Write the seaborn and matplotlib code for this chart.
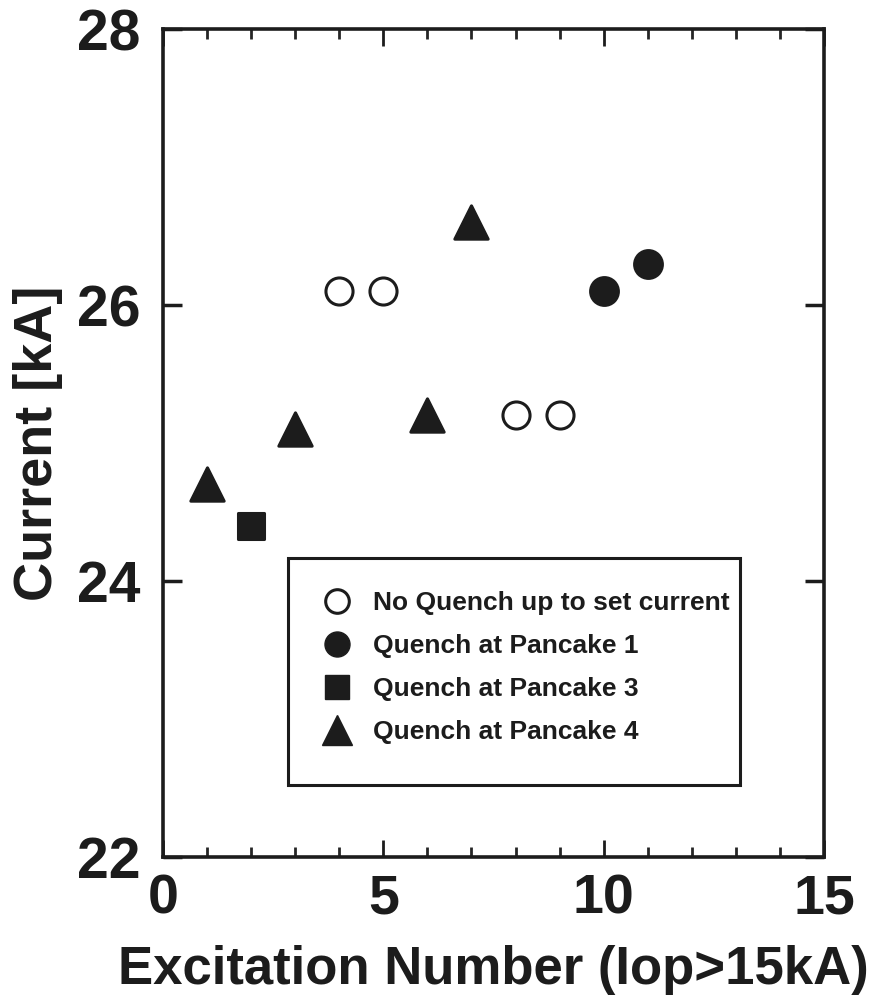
import matplotlib
matplotlib.use("Agg")
import matplotlib.pyplot as plt
import seaborn as sns
import pandas as pd
from matplotlib.ticker import MultipleLocator, FixedLocator
from matplotlib.lines import Line2D
from matplotlib.patches import Rectangle

# Data
no_quench_x = [4, 5, 8, 9]
no_quench_y = [26.1, 26.1, 25.2, 25.2]
pancake1_x = [10, 11]
pancake1_y = [26.1, 26.3]
pancake3_x = [2]
pancake3_y = [24.4]
pancake4_x = [1, 3, 6, 7]
pancake4_y = [24.7, 25.1, 25.2, 26.6]
labels = ["No Quench up to set current", "Quench at Pancake 1",
          "Quench at Pancake 3", "Quench at Pancake 4"]

sns.set_theme(style="white")
plt.rcParams['font.family'] = ['Liberation Sans', 'DejaVu Sans']

fig = plt.figure(figsize=(8.78, 9.99), dpi=100)
ax = fig.add_axes([0.1857, 0.1421, 0.7528, 0.8288])

ink = "#1c1c1c"
series = [
    (no_quench_x, no_quench_y, "o", "white", 19.5),
    (pancake1_x, pancake1_y, "o", ink, 20),
    (pancake3_x, pancake3_y, "s", ink, 18.5),
    (pancake4_x, pancake4_y, "^", ink, 24),
]
for (xs, ys, m, fc, ms), lab in zip(series, labels):
    df = pd.DataFrame({"x": xs, "y": ys})
    sns.scatterplot(data=df, x="x", y="y", ax=ax, marker=m, s=ms**2,
                    facecolor=fc, edgecolor=ink, linewidth=2.2, zorder=3)

ax.set_xlim(0, 15)
ax.set_ylim(22, 28)
ax.xaxis.set_major_locator(MultipleLocator(5))
ax.xaxis.set_minor_locator(MultipleLocator(1))
ax.yaxis.set_major_locator(FixedLocator([22, 24, 26, 28]))
ax.tick_params(axis="x", which="major", direction="in", length=12, width=2,
               top=True, bottom=True, labelsize=40, pad=12, colors=ink)
ax.tick_params(axis="x", which="minor", direction="in", length=7, width=2,
               top=True, bottom=True)
ax.tick_params(axis="y", which="major", direction="in", length=14, width=2.5,
               left=True, right=True, labelsize=41, pad=16, colors=ink)
for lab in ax.get_xticklabels() + ax.get_yticklabels():
    lab.set_fontweight("bold")
for sp in ax.spines.values():
    sp.set_linewidth(2.6)
    sp.set_color(ink)

ax.set_xlabel("Excitation Number (Iop>15kA)", fontsize=38, fontweight="bold",
              color=ink, labelpad=14)
ax.set_ylabel("Current [kA]", fontsize=39, fontweight="bold", color=ink,
              labelpad=10)

handles = [
    Line2D([], [], ls="none", marker="o", markersize=17, markerfacecolor="white",
           markeredgecolor=ink, markeredgewidth=2.2),
    Line2D([], [], ls="none", marker="o", markersize=18, markerfacecolor=ink,
           markeredgecolor=ink),
    Line2D([], [], ls="none", marker="s", markersize=17, markerfacecolor=ink,
           markeredgecolor=ink),
    Line2D([], [], ls="none", marker="^", markersize=22, markerfacecolor=ink,
           markeredgecolor=ink),
]
# legend box
ax.add_patch(Rectangle((0.189, 0.087), 0.684, 0.274, transform=ax.transAxes,
                       facecolor="white", edgecolor=ink, linewidth=2.2,
                       zorder=4))
leg = ax.legend(handles, labels, loc="upper left",
                bbox_to_anchor=(0.188, 0.361), frameon=False,
                prop={"size": 19, "weight": "bold"}, handlelength=1.3,
                handletextpad=0.7, labelspacing=0.72, borderpad=1.25,
                borderaxespad=0)
leg.set_zorder(5)
for t in leg.get_texts():
    t.set_color(ink)

fig.savefig("out.png", dpi=100)
